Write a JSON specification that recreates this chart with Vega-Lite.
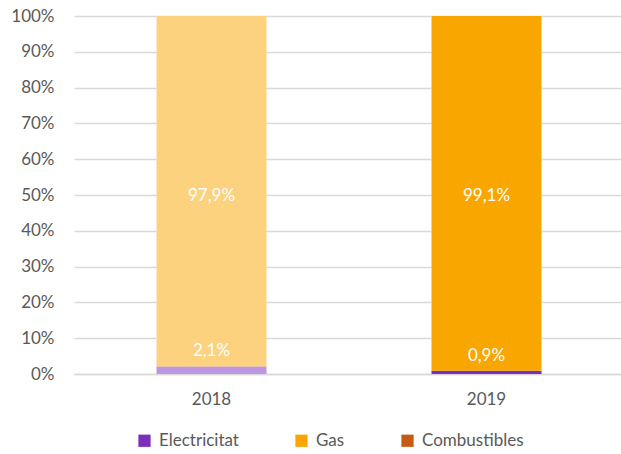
{
  "$schema": "https://vega.github.io/schema/vega-lite/v6.json",
  "width": 550,
  "height": 358,
  "autosize": {"type": "none"},
  "padding": {"left": 74, "top": 16, "right": 0, "bottom": 80},
  "background": "white",
  "config": {
    "locale": {"number": {"decimal": ",", "thousands": ".", "grouping": [3], "currency": ["", " €"]}},
    "view": {"stroke": null},
    "font": "Lato"
  },
  "data": {
    "values": [
      {"year": "2018", "serie": "Electricitat", "value": 0.021},
      {"year": "2018", "serie": "Gas", "value": 0.979},
      {"year": "2018", "serie": "Combustibles", "value": 0},
      {"year": "2019", "serie": "Electricitat", "value": 0.009},
      {"year": "2019", "serie": "Gas", "value": 0.991},
      {"year": "2019", "serie": "Combustibles", "value": 0}
    ]
  },
  "encoding": {
    "x": {
      "field": "year", "type": "nominal", "title": null,
      "scale": {"paddingInner": 0.6, "paddingOuter": 0.3},
      "axis": {"labelAngle": 0, "labelFontSize": 17, "labelColor": "#595959", "labelPadding": 17, "ticks": false, "domainColor": "#D9D9D9", "domainWidth": 1.5, "labelFont": "Lato"}
    }
  },
  "layer": [
    {
      "mark": {"type": "bar", "color": "white"},
      "encoding": {
        "y": {
          "field": "value", "type": "quantitative", "stack": "zero", "title": null,
          "scale": {"domain": [0, 1], "nice": false},
          "axis": {"values": [0, 0.1, 0.2, 0.3, 0.4, 0.5, 0.6, 0.7, 0.8, 0.9, 1], "format": ".0%", "labelOverlap": false, "labelFontSize": 17, "labelColor": "#595959", "labelPadding": 20, "ticks": false, "domain": false, "gridColor": "#D9D9D9", "gridWidth": 1.5, "labelFont": "Lato"}
        }
      }
    },
    {
      "mark": {"type": "bar"},
      "encoding": {
        "y": {
          "field": "value", "type": "quantitative", "stack": "zero", "title": null,
          "scale": {"domain": [0, 1], "nice": false},
          "axis": {"values": [0, 0.1, 0.2, 0.3, 0.4, 0.5, 0.6, 0.7, 0.8, 0.9, 1], "format": ".0%", "labelOverlap": false, "labelFontSize": 17, "labelColor": "#595959", "labelPadding": 20, "ticks": false, "domain": false, "gridColor": "#D9D9D9", "gridWidth": 1.5, "labelFont": "Lato"}
        },
        "color": {
          "field": "serie", "type": "nominal",
          "scale": {"domain": ["Electricitat", "Gas", "Combustibles"], "range": ["#7B2FBF", "#FAA600", "#C55A11"]},
          "legend": {"title": null, "orient": "none", "legendX": 62, "legendY": 416, "direction": "horizontal", "columns": 3, "columnPadding": 54, "symbolType": "square", "symbolSize": 150, "symbolOpacity": 1, "labelFontSize": 17, "labelColor": "#595959", "labelFont": "Lato", "labelOffset": 6}
        },
        "opacity": {
          "field": "year", "type": "nominal",
          "scale": {"domain": ["2018", "2019"], "range": [0.5, 1]},
          "legend": null
        },
        "order": {"field": "serie", "sort": "ascending"}
      }
    },
    {
      "transform": [{"filter": "datum.serie === 'Gas'"}],
      "mark": {"type": "text", "color": "white", "fontSize": 17, "font": "Lato", "baseline": "middle", "dy": 1},
      "encoding": {
        "y": {"datum": 0.5, "type": "quantitative", "title": null,
          "axis": {"values": [0, 0.1, 0.2, 0.3, 0.4, 0.5, 0.6, 0.7, 0.8, 0.9, 1], "format": ".0%", "labelOverlap": false, "labelFontSize": 17, "labelColor": "#595959", "labelPadding": 20, "ticks": false, "domain": false, "gridColor": "#D9D9D9", "gridWidth": 1.5, "labelFont": "Lato"}},
        "text": {"field": "value", "type": "quantitative", "format": ".1%"}
      }
    },
    {
      "transform": [{"filter": "datum.serie === 'Electricitat'"}],
      "mark": {"type": "text", "color": "white", "fontSize": 17, "font": "Lato", "baseline": "middle", "dy": -15},
      "encoding": {
        "y": {"field": "value", "type": "quantitative", "title": null,
          "axis": {"values": [0, 0.1, 0.2, 0.3, 0.4, 0.5, 0.6, 0.7, 0.8, 0.9, 1], "format": ".0%", "labelOverlap": false, "labelFontSize": 17, "labelColor": "#595959", "labelPadding": 20, "ticks": false, "domain": false, "gridColor": "#D9D9D9", "gridWidth": 1.5, "labelFont": "Lato"}},
        "text": {"field": "value", "type": "quantitative", "format": ".1%"}
      }
    }
  ]
}
